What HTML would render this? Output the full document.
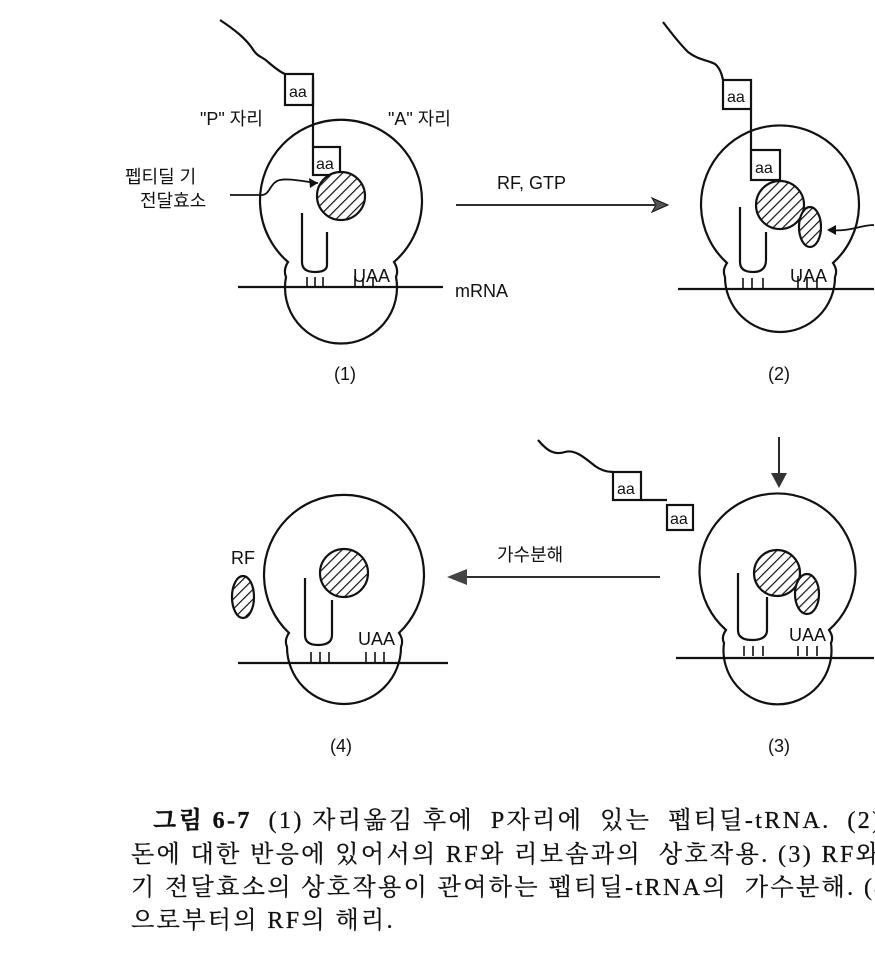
<!DOCTYPE html>
<html><head><meta charset="utf-8"><style>
html,body{margin:0;padding:0;background:#fff;}
body{width:875px;height:956px;overflow:hidden;position:relative;}
svg{position:absolute;left:0;top:0;}
.cap{position:absolute;left:0;width:875px;white-space:nowrap;overflow:hidden;font-family:"Liberation Serif","Noto Serif CJK SC",serif;font-size:24px;letter-spacing:2.4px;color:#111;-webkit-text-stroke:0.3px #111;box-sizing:border-box;}
</style></head><body>
<svg width="875" height="780" viewBox="0 0 875 780" font-family="Liberation Sans, Noto Sans CJK KR, sans-serif" fill="none" stroke="#111" stroke-width="2.2">
<defs>
<pattern id="h" width="7" height="7" patternUnits="userSpaceOnUse" patternTransform="rotate(45)">
<rect width="7" height="7" fill="#fff" stroke="none"/><line x1="0" y1="0" x2="0" y2="7" stroke="#111" stroke-width="2.4"/></pattern>
</defs>

<path d="M288,262 A81,81 0 1 1 394,262 Q399,270 396,277 A56,56 0 1 1 286,277 Q283,270 288,262 Z"/>
<line x1="238" y1="287" x2="443" y2="287"/>
<path d="M220,20 C235,30 245,38 252,48 C258,58 262,56 268,62 C275,68 280,72 285,74"/>
<rect x="285" y="74" width="28" height="31"/>
<line x1="313" y1="78" x2="313" y2="147"/>
<rect x="313" y="147" width="27" height="28"/>
<circle cx="341" cy="196" r="24" fill="url(#h)"/>
<path d="M327,232 V265 Q327,272 315,272 Q302,272 302,262 V213"/>
<path d="M230,195 L262,195 C270,195 270,182 280,180 C290,178 305,182 318,183" stroke-width="1.8"/>
<polygon points="318,183 309,178 310,188" fill="#111" stroke="none"/>
<path d="M307,277 v9 M315,277 v9 M323,277 v9 M355,276 v11 M363,278 v9 M373,278 v9" stroke-width="1.6"/>

<line x1="456" y1="205" x2="655" y2="205" stroke-width="1.8"/>
<polygon points="652,198 668,205 652,212 656,205" fill="#555" stroke="#111" stroke-width="1"/>

<path d="M727,263 A79,79 0 1 1 833,263 Q838,270 835,277 A55,55 0 1 1 725,277 Q722,270 727,263 Z"/>
<line x1="678" y1="289" x2="874" y2="289"/>
<path d="M663,22 C672,34 680,44 688,52 C698,60 708,60 715,64 C720,68 722,75 723,80"/>
<rect x="723" y="80" width="28" height="29"/>
<line x1="751" y1="109" x2="751" y2="150"/>
<rect x="751" y="150" width="29" height="30"/>
<circle cx="780" cy="205" r="24" fill="url(#h)"/>
<ellipse cx="810" cy="227" rx="11" ry="20" fill="url(#h)"/>
<path d="M766,232 V260 Q766,272 753,272 Q740,272 740,262 V207"/>
<path d="M874,225 C860,225 850,232 830,230" stroke-width="1.8"/>
<polygon points="827,230 836,225 836,235" fill="#111" stroke="none"/>
<path d="M743,278 v10 M752,278 v10 M763,278 v10 M798,276 v12 M807,278 v10 M817,278 v10" stroke-width="1.6"/>

<path d="M726,630 A78,78 0 1 1 829,630 Q834,637 831,643 A54,54 0 1 1 724,643 Q721,637 726,630 Z"/>
<line x1="676" y1="658" x2="874" y2="658"/>
<line x1="779" y1="437" x2="779" y2="475" stroke-width="1.8"/>
<polygon points="771,473 787,473 779,488" fill="#333" stroke="none"/>
<circle cx="777" cy="573" r="23" fill="url(#h)"/>
<ellipse cx="807" cy="594" rx="12" ry="20" fill="url(#h)"/>
<path d="M767,597 V630 Q767,640 752,640 Q738,640 738,630 V573"/>
<path d="M744,646 v10 M753,646 v10 M763,646 v10 M798,646 v10 M807,646 v10 M817,646 v10" stroke-width="1.6"/>
<path d="M538,440 C548,452 555,455 565,452 C575,449 585,458 595,466 C602,471 608,472 613,472"/>
<rect x="613" y="472" width="28" height="28"/>
<line x1="641" y1="500" x2="667" y2="500"/>
<rect x="667" y="505" width="26" height="25"/>

<line x1="660" y1="577" x2="465" y2="577" stroke-width="1.8"/>
<polygon points="447,577 467,569 467,585" fill="#444" stroke="none"/>

<path d="M289,633 A80,80 0 1 1 399,633 Q404,640 401,647 A56,56 0 1 1 287,647 Q284,640 289,633 Z"/>
<line x1="238" y1="663" x2="448" y2="663"/>
<circle cx="344" cy="573" r="24" fill="url(#h)"/>
<ellipse cx="243" cy="597" rx="11" ry="21" fill="url(#h)"/>
<path d="M332,600 V635 Q332,645 318,645 Q305,645 305,635 V578"/>
<path d="M311,652 v10 M320,652 v10 M329,652 v10 M366,652 v10 M375,652 v10 M384,652 v10" stroke-width="1.6"/>

<g fill="#111" stroke="none" font-size="18">
<text x="200" y="125">"P" 자리</text>
<text x="388" y="125">"A" 자리</text>
<text x="125" y="183">펩티딜 기</text>
<text x="140" y="207">전달효소</text>
<text x="353" y="282">UAA</text>
<text x="455" y="297">mRNA</text>
<text x="334" y="380">(1)</text>
<text x="497" y="189">RF, GTP</text>
<text x="790" y="282">UAA</text>
<text x="768" y="380">(2)</text>
<text x="497" y="561">가수분해</text>
<text x="789" y="641">UAA</text>
<text x="768" y="752">(3)</text>
<text x="231" y="564">RF</text>
<text x="358" y="645">UAA</text>
<text x="330" y="752">(4)</text>
<g font-size="16"><text x="289" y="97">aa</text><text x="316" y="169">aa</text><text x="727" y="102">aa</text><text x="755" y="173">aa</text><text x="617" y="494">aa</text><text x="670" y="524">aa</text></g>
</g>
</svg>
<div class="cap" style="top:800px;padding-left:153px;"><b>그림 6-7</b>&nbsp; (1) 자리옮김 후에 &nbsp;P자리에 &nbsp;있는 &nbsp;펩티딜-tRNA. &nbsp;(2)</div>
<div class="cap" style="top:834px;padding-left:131px;">돈에 대한 반응에 있어서의 RF와 리보솜과의 &nbsp;상호작용. (3) RF와</div>
<div class="cap" style="top:867px;padding-left:131px;">기 전달효소의 상호작용이 관여하는 펩티딜-tRNA의 &nbsp;가수분해. (4</div>
<div class="cap" style="top:900px;padding-left:131px;">으로부터의 RF의 해리.</div>
</body></html>
